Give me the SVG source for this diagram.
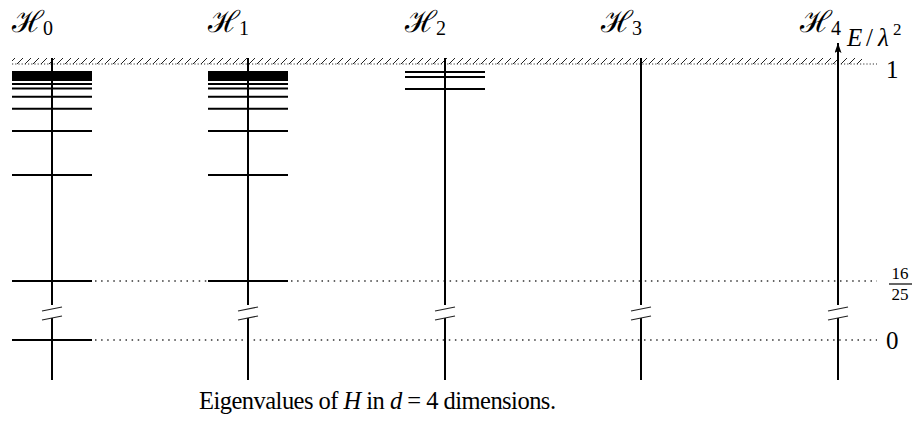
<svg xmlns="http://www.w3.org/2000/svg" width="917" height="425" viewBox="0 0 917 425">
<style>
.axis{stroke:#000;stroke-width:2;fill:none}
.lvl{stroke:#000;stroke-width:2}
.blk{fill:#000}
.brk{stroke:#222;stroke-width:1.1}
.dot{stroke:#333;stroke-width:1.5;stroke-dasharray:1.5 4.6;fill:none}
.dot1{stroke:#333;stroke-width:1.2;stroke-dasharray:1.2 2;fill:none}
.lab{font-family:"DejaVu Serif","Liberation Serif",serif;font-size:30px;fill:#000}
.sub{font-family:"Liberation Serif",serif;font-size:20px}
.num{font-family:"Liberation Serif",serif;font-size:25px;fill:#000}
.frac{font-family:"Liberation Serif",serif;font-size:17px;fill:#000}
.cap{font-family:"Liberation Serif",serif;font-size:24.5px;fill:#000}
</style>
<defs>
<pattern id="hatch" patternUnits="userSpaceOnUse" x="0" y="57" width="8" height="7">
<line x1="1" y1="7" x2="7" y2="1" stroke="#222" stroke-width="1"/>
</pattern>
<marker id="arr" viewBox="0 0 10 7" refX="10" refY="3.5" markerWidth="10" markerHeight="7" markerUnits="userSpaceOnUse" orient="auto">
<path d="M0,0 L10,3.5 L0,7 L2,3.5 Z" fill="#000"/>
</marker>
</defs>

<g id="ceiling">
<rect x="12" y="57" width="850" height="7" fill="url(#hatch)"/>
<line class="dot1" x1="12" y1="64" x2="877" y2="64"/>
</g>

<g id="connectors">
<line class="dot" x1="95" y1="281" x2="208" y2="281"/>
<line class="dot" x1="291" y1="281" x2="877" y2="281"/>
<line class="dot" x1="95" y1="340" x2="877" y2="340"/>
</g>

<g id="H0">
<text class="lab" x="12" y="32">ℋ<tspan class="sub" dx="-1" dy="3">0</tspan></text>
<line class="axis" x1="52" y1="58" x2="52" y2="305"/>
<line class="axis" x1="52" y1="318" x2="52" y2="380"/>
<line class="brk" x1="42" y1="311" x2="62" y2="307"/>
<line class="brk" x1="42" y1="320" x2="62" y2="316"/>
<rect class="blk" x="12" y="71" width="80" height="10"/>
<line class="lvl" x1="12" y1="84" x2="92" y2="84"/>
<line class="lvl" x1="12" y1="88.5" x2="92" y2="88.5"/>
<line class="lvl" x1="12" y1="96.7" x2="92" y2="96.7"/>
<line class="lvl" x1="12" y1="108.7" x2="92" y2="108.7"/>
<line class="lvl" x1="12" y1="131" x2="92" y2="131"/>
<line class="lvl" x1="12" y1="175" x2="92" y2="175"/>
<line class="lvl" x1="12" y1="281" x2="92" y2="281"/>
<line class="lvl" x1="12" y1="340" x2="92" y2="340"/>
</g>

<g id="H1">
<text class="lab" x="208" y="32">ℋ<tspan class="sub" dx="-1" dy="3">1</tspan></text>
<line class="axis" x1="248" y1="58" x2="248" y2="305"/>
<line class="axis" x1="248" y1="318" x2="248" y2="380"/>
<line class="brk" x1="238" y1="311" x2="258" y2="307"/>
<line class="brk" x1="238" y1="320" x2="258" y2="316"/>
<rect class="blk" x="208" y="71" width="80" height="10"/>
<line class="lvl" x1="208" y1="84" x2="288" y2="84"/>
<line class="lvl" x1="208" y1="88.5" x2="288" y2="88.5"/>
<line class="lvl" x1="208" y1="96.7" x2="288" y2="96.7"/>
<line class="lvl" x1="208" y1="108.7" x2="288" y2="108.7"/>
<line class="lvl" x1="208" y1="131" x2="288" y2="131"/>
<line class="lvl" x1="208" y1="175" x2="288" y2="175"/>
<line class="lvl" x1="208" y1="281" x2="288" y2="281"/>
</g>

<g id="H2">
<text class="lab" x="405" y="32">ℋ<tspan class="sub" dx="-1" dy="3">2</tspan></text>
<line class="axis" x1="445" y1="58" x2="445" y2="305"/>
<line class="axis" x1="445" y1="318" x2="445" y2="380"/>
<line class="brk" x1="435" y1="311" x2="455" y2="307"/>
<line class="brk" x1="435" y1="320" x2="455" y2="316"/>
<line class="lvl" x1="405" y1="72" x2="485" y2="72"/>
<line class="lvl" x1="405" y1="77" x2="485" y2="77"/>
<line class="lvl" x1="405" y1="89" x2="485" y2="89"/>
</g>

<g id="H3">
<text class="lab" x="601" y="32">ℋ<tspan class="sub" dx="-1" dy="3">3</tspan></text>
<line class="axis" x1="641" y1="58" x2="641" y2="305"/>
<line class="axis" x1="641" y1="318" x2="641" y2="380"/>
<line class="brk" x1="631" y1="311" x2="651" y2="307"/>
<line class="brk" x1="631" y1="320" x2="651" y2="316"/>
</g>

<g id="H4">
<text class="lab" x="800" y="32">ℋ<tspan class="sub" dx="-1" dy="3">4</tspan></text>
<line class="axis" x1="838" y1="305" x2="838" y2="43" marker-end="url(#arr)"/>
<line class="axis" x1="838" y1="318" x2="838" y2="380"/>
<line class="brk" x1="828" y1="311" x2="848" y2="307"/>
<line class="brk" x1="828" y1="320" x2="848" y2="316"/>
</g>

<g id="axis-labels">
<text class="num" x="847" y="46" font-size="26" font-style="italic">E</text>
<text class="num" x="866" y="46" font-size="26">/</text>
<text class="num" x="878" y="46" font-size="26" font-style="italic">λ</text>
<text class="frac" x="893" y="35">2</text>
<text class="num" x="886" y="78">1</text>
<text class="frac" x="900" y="279" text-anchor="middle">16</text>
<line x1="889" y1="284" x2="912" y2="284" stroke="#000" stroke-width="1.2"/>
<text class="frac" x="900" y="300" text-anchor="middle">25</text>
<text class="num" x="886" y="349">0</text>
</g>

<g id="caption">
<text class="cap" x="199" y="409" textLength="357" lengthAdjust="spacing">Eigenvalues of <tspan font-style="italic">H</tspan> in <tspan font-style="italic">d</tspan> = 4 dimensions.</text>
</g>
</svg>
